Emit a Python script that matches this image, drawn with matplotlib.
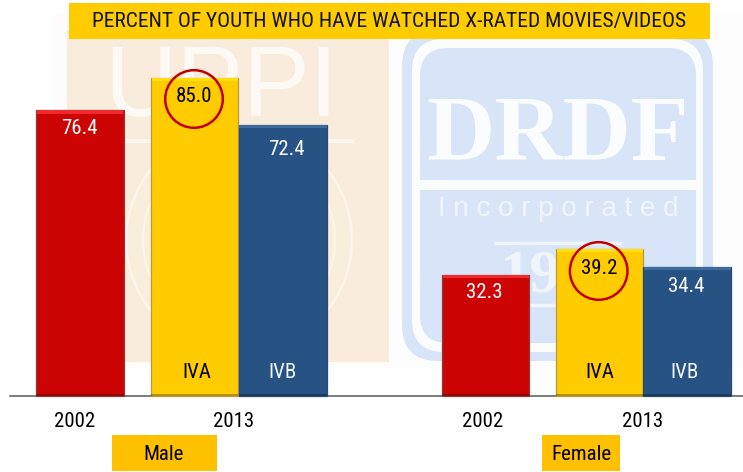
import matplotlib
matplotlib.use("Agg")
import matplotlib.pyplot as plt
from matplotlib.patches import Rectangle, FancyBboxPatch, Circle

W, H = 743, 472
BASE_Y = 395.5
PX_PER_UNIT = 3.735

title = "PERCENT OF YOUTH WHO HAVE WATCHED X-RATED MOVIES/VIDEOS"
groups = ["Male", "Female"]
years = ["2002", "2013"]
strata = ["IVA", "IVB"]
male_values = [76.4, 85.0, 72.4]
female_values = [32.3, 39.2, 34.4]
value_labels_male = ["76.4", "85.0", "72.4"]
value_labels_female = ["32.3", "39.2", "34.4"]

NARROW = ["Roboto Condensed", "Liberation Sans", "DejaVu Sans"]
plt.rcParams["font.family"] = NARROW
fig = plt.figure(figsize=(W / 100, H / 100), dpi=100)

# pixel overlay (y down) for watermark and annotation boxes
bg = fig.add_axes([0, 0, 1, 1], zorder=0)
bg.set_xlim(0, W); bg.set_ylim(H, 0); bg.axis("off")

# UPPI watermark panel
bg.add_patch(Rectangle((53, 14), 344, 354, fc="#fdfcfa", ec="none"))
bg.add_patch(Rectangle((67, 30), 322, 331.5, fc="#f9ecdc", ec="none"))
bg.text(221, 90, "UPPI", family="Liberation Sans", color="#fdf9f4", fontsize=72,
        ha="center", va="center")
bg.plot([90, 352], [141, 141], color="#fdf6ee", lw=3)
bg.add_patch(Circle((239, 240), 113, fc="#f8eedb", ec="#fbf5ea", lw=2))
bg.add_patch(Circle((239, 240), 96, fc="none", ec="#fbf5ea", lw=1.5))

# DRDF watermark logo
bg.add_patch(Rectangle((389, 12), 354, 356, fc="#fdfdfe", ec="none"))
bg.add_patch(FancyBboxPatch((402, 30), 311, 331, boxstyle="round,pad=0,rounding_size=36",
                            fc="#d8e5f8", ec="none"))
bg.add_patch(FancyBboxPatch((412, 39), 291, 313, boxstyle="round,pad=0,rounding_size=32",
                            fc="#fbfcfe", ec="none"))
bg.add_patch(FancyBboxPatch((420, 48), 276, 295, boxstyle="round,pad=0,rounding_size=28",
                            fc="#d8e5f8", ec="none"))
bg.add_patch(Rectangle((420, 180), 276, 10, fc="#fbfcfe", ec="none"))
bg.text(558, 137, "DRDF", family="Liberation Serif", weight="bold", color="#fbfcfe",
        fontsize=68, ha="center", va="center")
bg.text(558, 209, "I n c o r p o r a t e d", family="Liberation Sans", color="#f0f5fc",
        fontsize=20, ha="center", va="center")
bg.text(530, 277, "19", family="Liberation Serif", weight="bold", color="#f0f5fc",
        fontsize=44, ha="center", va="center")
bg.plot([496, 620], [243, 243], color="#f0f5fc", lw=2.5)
bg.plot([496, 620], [305, 305], color="#f0f5fc", lw=2.5)

# data axes: value scale matched to the figure
ax = fig.add_axes([0, 0, 1, 1], zorder=1)
ax.patch.set_alpha(0)
ax.set_xlim(0, W)
ax.set_ylim(-(H - BASE_Y) / PX_PER_UNIT, BASE_Y / PX_PER_UNIT)
ax.axis("off")

colors = ["#cc0404", "#ffcc02", "#265284"]
tops = ["#ee2a2e", "#ffdf10", "#3f6c9f"]
edges = ["#8c3a3a", "#b89a3a", "#2a4a70"]
txt_colors = ["white", "black", "white"]
spans = [[(36, 123.5), (151, 238), (238.5, 327)],
         [(442, 529), (556, 643), (643, 731)]]
series = [(male_values, value_labels_male), (female_values, value_labels_female)]
label_pos = [[(79.5, 128.5), (194, 97), (286, 149.5)],
             [(484, 293), (599, 268), (686, 286)]]
strata_pos = [[(197, 373), (282, 373)], [(600, 373), (685, 373)]]
year_pos = [[(75, 421.5), (234, 421.5)], [(483, 421.5), (643, 421.5)]]

ax.plot([10, W], [0, 0], color="#595959", lw=1.1, zorder=2)

for g, (vals, labs) in enumerate(series):
    for i, v in enumerate(vals):
        x0, x1 = spans[g][i]
        ax.bar((x0 + x1) / 2, v, width=x1 - x0, color=colors[i], edgecolor=edges[i],
               linewidth=0.9, zorder=3)
        ax.bar((x0 + x1) / 2, 0.9, bottom=v - 0.9, width=x1 - x0 - 1, color=tops[i],
               linewidth=0, zorder=4)
        ax.bar((x0 + x1) / 2, 0.45, width=x1 - x0, color="black", alpha=0.28,
               linewidth=0, zorder=4)

# annotation overlay on top of the bars
fg = fig.add_axes([0, 0, 1, 1], zorder=2)
fg.patch.set_alpha(0)
fg.set_xlim(0, W); fg.set_ylim(H, 0); fg.axis("off")

fg.add_patch(Rectangle((69, 3), 641, 36, fc="#ffcc00", ec="none"))
fg.text(389.5, 21.5, title, fontsize=15.45, color="#111111", ha="center", va="center")

FS = 15
for g, (vals, labs) in enumerate(series):
    for i, lab in enumerate(labs):
        x, y = label_pos[g][i]
        fg.text(x, y, lab, fontsize=FS, color=txt_colors[i], ha="center", va="center")
    for j, s in enumerate(strata):
        x, y = strata_pos[g][j]
        fg.text(x, y, s, fontsize=FS, color=["black", "#f4f7fb"][j], ha="center", va="center")
    for j, yr in enumerate(years):
        x, y = year_pos[g][j]
        fg.text(x, y, yr, fontsize=FS, color="black", ha="center", va="center")

for (cx, cy, r) in [(194, 99, 28.8), (598.7, 271, 28.8)]:
    fg.add_patch(Circle((cx, cy), r, fc="none", ec="#c00000", lw=1.8))

boxes = [(112, 217, 164), (542, 620, 581)]
for name, (x0, x1, tx) in zip(groups, boxes):
    fg.add_patch(Rectangle((x0, 435), x1 - x0, 36, fc="#ffc000", ec="none"))
    fg.text(tx, 454, name, fontsize=FS, color="black", ha="center", va="center")

fig.savefig("out.png", dpi=100)
